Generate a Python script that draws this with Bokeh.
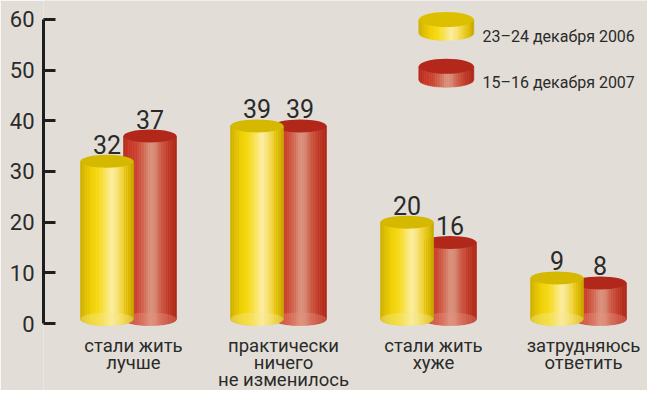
import numpy as np
from bokeh.plotting import figure
from bokeh.models import FixedTicker, Range1d
from bokeh.core.properties import value
from bokeh.embed import file_html
from bokeh.resources import INLINE

# ---------------- data ----------------
categories = ["стали жить\nлучше", "практически\nничего\nне изменилось",
              "стали жить\nхуже", "затрудняюсь\nответить"]
series_names = ["23–24 декабря 2006", "15–16 декабря 2007"]
values_2006 = [32, 39, 20, 9]
values_2007 = [37, 39, 16, 8]
y_ticks = [0, 10, 20, 30, 40, 50, 60]
y_tick_labels = ["0", "10", "20", "30", "40", "50", "60"]

# ---------------- layout / style ----------------
W, H = 647, 390
BG = "#e2ded7"
TXT = "#2a2a2a"
FONT = "Roboto"

FRAME_LEFT = 43          # px, left border (axis area)
CAT0_PX = 133            # px from figure left to first category centre
PX_PER_CAT = 150.0
Y0_PX = 323              # px from figure top to y=0
PX_PER_Y = 5.067

def dx(px):
    return px / PX_PER_CAT

def dy(px):
    return px / PX_PER_Y

def fx(px):  # figure px -> data x
    return (px - CAT0_PX) / PX_PER_CAT

def fy(px):  # figure px (from top) -> data y
    return (Y0_PX - px) / PX_PER_Y

p = figure(width=W, height=H, output_backend="svg", toolbar_location=None,
           x_range=Range1d(fx(FRAME_LEFT), fx(W)), y_range=Range1d(fy(H), fy(0)),
           x_axis_location=None, min_border_left=FRAME_LEFT, min_border_right=0,
           min_border_top=0, min_border_bottom=0)
p.background_fill_color = BG
p.border_fill_color = BG
p.outline_line_color = None
p.xgrid.visible = False
p.ygrid.visible = False

ax = p.yaxis[0]
ax.ticker = FixedTicker(ticks=y_ticks)
ax.major_label_overrides = {t: l for t, l in zip(y_ticks, y_tick_labels)}
ax.bounds = (y_ticks[0], y_ticks[-1])
ax.axis_line_width = 3
ax.axis_line_color = "#1e1e1e"
ax.major_tick_line_width = 3
ax.major_tick_line_color = "#1e1e1e"
ax.major_tick_in = 12
ax.major_tick_out = 0
ax.minor_tick_line_color = None
ax.major_label_standoff = 9
ax.major_label_text_font = FONT
ax.major_label_text_font_size = "22px"
ax.major_label_text_color = TXT

YELLOW_STOPS = [(0.0, "#cdae00"), (0.08, "#dcbd00"), (0.2, "#efd000"), (0.35, "#f7da18"),
                (0.48, "#fae460"), (0.6, "#fdeea2"), (0.7, "#f8e276"), (0.82, "#eed02c"),
                (0.93, "#dbbb00"), (1.0, "#c6a600")]
RED_STOPS = [(0.0, "#b3291a"), (0.1, "#c63626"), (0.25, "#cb432f"), (0.4, "#d26c56"),
             (0.5, "#da917c"), (0.6, "#d78a76"), (0.7, "#ce5e47"), (0.85, "#c13a28"),
             (1.0, "#ad2717")]
YELLOW_TOP = "#d5b800"
RED_TOP = "#b1271a"
YELLOW_LIGHT = "#f6e890"
RED_LIGHT = "#e89484"


def hex2rgb(h):
    h = h.lstrip("#")
    return np.array([int(h[i:i + 2], 16) for i in (0, 2, 4)], dtype=float)


def interp(stops, t):
    for (t0, c0), (t1, c1) in zip(stops[:-1], stops[1:]):
        if t0 <= t <= t1:
            f = (t - t0) / (t1 - t0) if t1 > t0 else 0
            c = hex2rgb(c0) * (1 - f) + hex2rgb(c1) * f
            return "#%02x%02x%02x" % tuple(int(round(v)) for v in c)
    return stops[-1][1]


def cylinder(cx, y0, y1, w, eh, stops, top_color, light, light_alpha, n=30):
    xs, ys, cols = [], [], []
    for k in range(n):
        xa = cx - w / 2 + w * k / n
        xb = cx - w / 2 + w * (k + 1) / n
        col = interp(stops, (k + 0.5) / n)
        sx = np.linspace(xa, xb, 5)
        u = (sx - cx) / (w / 2)
        by = y0 - eh * np.sqrt(np.clip(1 - u ** 2, 0, 1))
        xs.append([xa, xb] + list(sx[::-1]))
        ys.append([y1, y1] + list(by[::-1]))
        cols.append(col)
    p.patches(xs, ys, fill_color=cols, line_color=cols, line_width=0.6)
    p.ellipse([cx], [y0], width=w, height=2 * eh, fill_color=light,
              fill_alpha=light_alpha, line_color=None)
    p.ellipse([cx], [y1], width=w, height=2 * eh, fill_color=top_color,
              line_color=None)


BAR_W = dx(53)
OFF_Y = dx(-26.5)
OFF_R = dx(16.5)
BASE = dy(4.5)
EH = dy(6.5)

x_cat = np.arange(len(categories))

# red behind, yellow in front
for i, v in enumerate(values_2007):
    cylinder(x_cat[i] + OFF_R, BASE, v, BAR_W, EH, RED_STOPS, RED_TOP, RED_LIGHT, 0.35)
for i, v in enumerate(values_2006):
    cylinder(x_cat[i] + OFF_Y, BASE, v, BAR_W, EH, YELLOW_STOPS, YELLOW_TOP, YELLOW_LIGHT, 0.4)

# value labels
lab_dy = dy(17)
for offs, vals in ((OFF_Y, values_2006), (OFF_R, values_2007)):
    p.text(x=list(x_cat + offs), y=[v + lab_dy for v in vals],
           text=[str(v) for v in vals], text_align="center",
           text_baseline="alphabetic", text_font=value(FONT), text_font_size="25px",
           text_color=TXT)

# category labels (one text item per line)
LINE1_PX = 345
LINE_STEP = 17
lx, ly, lt = [], [], []
for i, c in enumerate(categories):
    for k, line in enumerate(c.split("\n")):
        lx.append(x_cat[i])
        ly.append(fy(LINE1_PX + k * LINE_STEP))
        lt.append(line)
p.text(x=lx, y=ly, text=lt, text_align="center", text_baseline="alphabetic",
       text_font=value(FONT), text_font_size="18.5px", text_color=TXT)

# legend
LEG_CX = fx(445.8)
LEG_W = dx(55)
LEG_EH = dy(7.5)
leg_rows = [(19.0, 32.5, 36.0, YELLOW_STOPS, "#dcc000", YELLOW_LIGHT),
            (65.8, 79.2, 82.0, RED_STOPS, "#b3281a", RED_LIGHT)]
for (top_px, bot_px, txt_px, stops, topc, light), name in zip(leg_rows, series_names):
    cylinder(LEG_CX, fy(bot_px), fy(top_px), LEG_W, LEG_EH, stops, topc, light, 0.0)
    p.text(x=[fx(482)], y=[fy(txt_px)], text=[name], text_align="left",
           text_baseline="alphabetic", text_font=value(FONT), text_font_size="16px",
           text_color=TXT)

open("out.html", "w").write(file_html(p, INLINE))
